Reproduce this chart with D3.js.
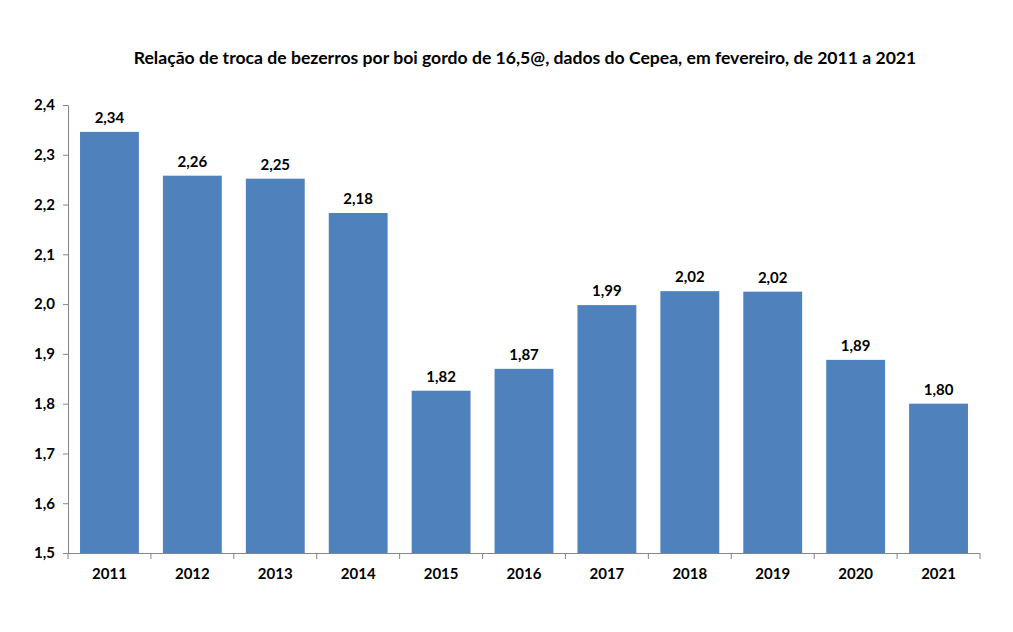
<!DOCTYPE html>
<html><head><meta charset="utf-8">
<script src="https://cdn.jsdelivr.net/npm/d3@7"></script>
<style>body{margin:0;background:#fff;} svg{display:block;}</style>
</head><body>
<svg id="c" width="1013" height="632"></svg>
<script>
const categories = ["2011","2012","2013","2014","2015","2016","2017","2018","2019","2020","2021"];
const values = [2.346, 2.258, 2.252, 2.183, 1.826, 1.870, 1.998, 2.026, 2.025, 1.888, 1.800];
const valueLabels = ["2,34","2,26","2,25","2,18","1,82","1,87","1,99","2,02","2,02","1,89","1,80"];
const yTicks = [1.5,1.6,1.7,1.8,1.9,2.0,2.1,2.2,2.3,2.4];
const title = "Relação de troca de bezerros por boi gordo de 16,5@, dados do Cepea, em fevereiro, de 2011 a 2021";

(function(){
const svg = d3.select("#c");
const font = "Lato, 'Open Sans', sans-serif";
const pL = 68, pR = 980, pT = 105, pB = 553;
const x = d3.scaleBand().domain(categories).range([pL, pR]).paddingInner(0.29).paddingOuter(0.145);
const y = d3.scaleLinear().domain([1.5, 2.4]).range([pB, pT]);
const axisColor = "#868686";

svg.append("text").attr("x", 525).attr("y", 64).attr("text-anchor", "middle")
  .attr("font-family", font).attr("font-weight", "bold").attr("font-size", 17.6).attr("fill", "#000").text(title);

svg.selectAll("rect.bar").data(values).enter().append("rect").attr("class","bar")
  .attr("x", (d,i)=>x(categories[i])).attr("width", x.bandwidth())
  .attr("y", d=>y(d)).attr("height", d=>pB - y(d)).attr("fill", "#4F81BD");

svg.selectAll("text.vl").data(values).enter().append("text").attr("class","vl")
  .attr("x", (d,i)=>x(categories[i]) + x.bandwidth()/2).attr("y", d=>y(d) - 9)
  .attr("text-anchor","middle").attr("font-family", font).attr("font-weight","bold").attr("font-size", 15)
  .text((d,i)=>valueLabels[i]);

const ya = svg.append("g").attr("transform", `translate(${pL},0)`)
  .call(d3.axisLeft(y).tickValues(yTicks).tickSize(5).tickPadding(8)
    .tickFormat(d=>d3.format(".1f")(d).replace(".", ",")));
ya.select(".domain").attr("stroke", axisColor);
ya.selectAll(".tick line").attr("stroke", axisColor);
ya.selectAll(".tick text").attr("font-family", font).attr("font-weight","bold").attr("font-size", 15).attr("fill","#000");

const xa = svg.append("g").attr("transform", `translate(0,${pB})`)
  .call(d3.axisBottom(x).tickSize(0).tickPadding(15));
xa.select(".domain").attr("stroke", axisColor).attr("d", `M${pL},0.5H${pR}`);
xa.selectAll(".tick text").attr("font-family", font).attr("font-weight","bold").attr("font-size", 15).attr("fill","#000");
const bounds = categories.map(c => x(c) - x.step()*x.paddingInner()/2).concat([pR]);
bounds[0] = pL;
xa.selectAll("line.bd").data(bounds).enter().append("line").attr("class","bd")
  .attr("x1", d=>d).attr("x2", d=>d).attr("y1", 0).attr("y2", 6).attr("stroke", axisColor);
})();
</script>
</body></html>
